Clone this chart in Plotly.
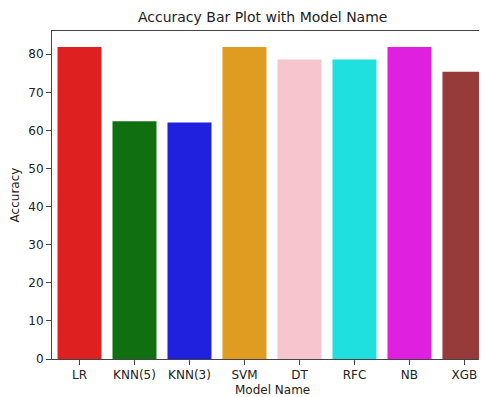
import plotly.graph_objects as go

models = ["LR", "KNN(5)", "KNN(3)", "SVM", "DT", "RFC", "NB", "XGB"]
accuracy = [81.9, 62.4, 62.1, 81.9, 78.6, 78.6, 81.9, 75.4]
bar_colors = ["#df2020", "#107010", "#2020df", "#df9c20", "#f7c5ce", "#20dfdf", "#df20df", "#963a3a"]

fig = go.Figure(go.Bar(
    x=models, y=accuracy, marker=dict(color=bar_colors, line=dict(width=0)),
))

# page body has an 8px default margin, so the figure is sized/offset to compensate
W, H = 479, 389
L, T, B = 44, 23, 38
plot_h = H - T - B
font = "DejaVu Sans, sans-serif"
fig.update_layout(
    width=W, height=H,
    margin=dict(l=L, r=0, t=T, b=B, autoexpand=False),
    paper_bgcolor="white", plot_bgcolor="white",
    bargap=0.2,
    showlegend=False,
    title=dict(text="Accuracy Bar Plot with Model Name", x=(240 - 8) / W, xanchor="center",
               y=1 - 9.5 / H, yanchor="middle", xref="paper",
               font=dict(family=font, size=14, color="#222")),
    font=dict(family=font, size=12, color="#222"),
    annotations=[dict(text="Model Name", xref="paper", yref="paper",
                      x=0.506, y=-31 / plot_h, xanchor="center", yanchor="middle",
                      showarrow=False, font=dict(family=font, size=12, color="#222"))],
)
fig.update_xaxes(
    range=[-0.5, 7.41], showline=True, linecolor="#444", linewidth=1, mirror=True,
    ticks="outside", ticklen=5, tickcolor="#444", showgrid=False, automargin=False,
    tickfont=dict(size=12),
)
fig.update_yaxes(
    range=[0, 86.1], showline=True, linecolor="#444", linewidth=1,
    ticks="outside", ticklen=5, tickcolor="#444", showgrid=False, zeroline=False,
    automargin=False,
    tickvals=[0, 10, 20, 30, 40, 50, 60, 70, 80],
    title=dict(text="Accuracy", font=dict(size=12), standoff=6),
    tickfont=dict(size=12),
)

fig.write_html("out.html")
